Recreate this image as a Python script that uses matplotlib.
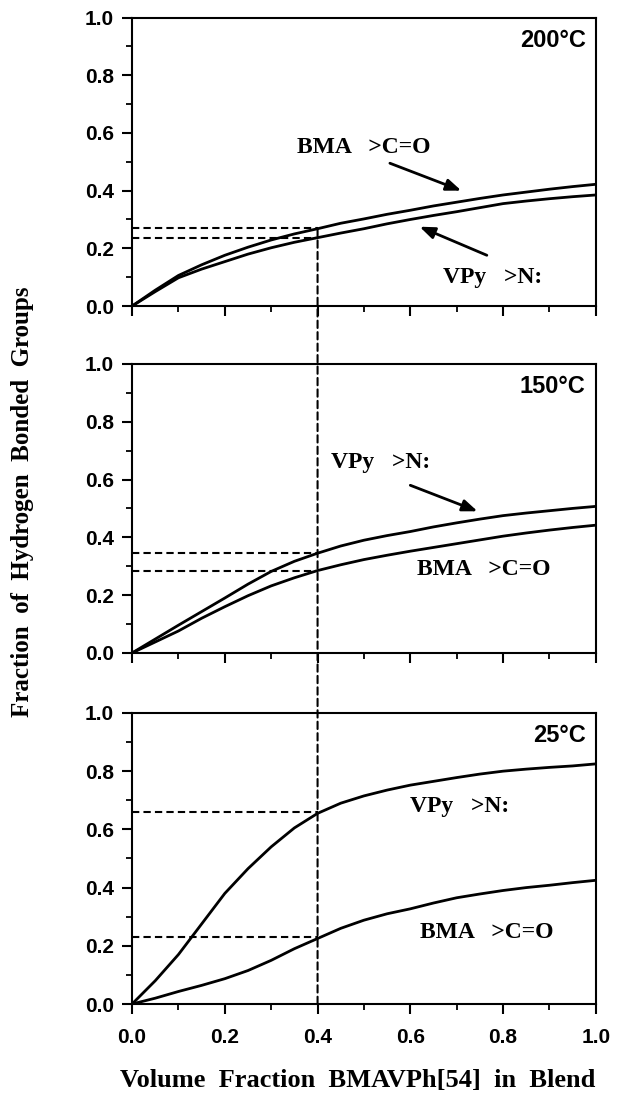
import matplotlib
matplotlib.use("Agg")
import matplotlib.pyplot as plt
from matplotlib.patches import ConnectionPatch
from matplotlib.ticker import MultipleLocator

# --- data ---
x_frac = [0.0, 0.05, 0.1, 0.15, 0.2, 0.25, 0.3, 0.35, 0.4, 0.45, 0.5,
          0.55, 0.6, 0.65, 0.7, 0.75, 0.8, 0.85, 0.9, 0.95, 1.0]

bma_200 = [0.0, 0.055, 0.106, 0.143, 0.176, 0.204, 0.229, 0.25, 0.268, 0.287, 0.302,
           0.318, 0.332, 0.347, 0.36, 0.373, 0.385, 0.395, 0.405, 0.414, 0.422]
vpy_200 = [0.0, 0.05, 0.098, 0.128, 0.154, 0.18, 0.202, 0.221, 0.237, 0.253, 0.268,
           0.285, 0.30, 0.314, 0.327, 0.341, 0.355, 0.364, 0.372, 0.379, 0.385]

vpy_150 = [0.0, 0.048, 0.096, 0.143, 0.19, 0.238, 0.282, 0.317, 0.345, 0.37, 0.39,
           0.406, 0.42, 0.436, 0.45, 0.463, 0.475, 0.484, 0.492, 0.50, 0.507]
bma_150 = [0.0, 0.038, 0.076, 0.12, 0.16, 0.198, 0.232, 0.26, 0.285, 0.305, 0.323,
           0.338, 0.352, 0.365, 0.378, 0.391, 0.404, 0.415, 0.425, 0.434, 0.442]

vpy_25 = [0.0, 0.08, 0.17, 0.275, 0.38, 0.465, 0.54, 0.605, 0.655, 0.69, 0.715,
          0.735, 0.752, 0.765, 0.778, 0.79, 0.80, 0.807, 0.813, 0.818, 0.825]
bma_25 = [0.0, 0.02, 0.043, 0.064, 0.087, 0.115, 0.15, 0.19, 0.225, 0.26, 0.288,
          0.31, 0.327, 0.347, 0.365, 0.378, 0.39, 0.40, 0.408, 0.417, 0.425]

temps = ["200°C", "150°C", "25°C"]
guide_x = 0.4
guides = [[0.27, 0.235], [0.345, 0.285], [0.66, 0.23]]

x_ticks = [0.0, 0.2, 0.4, 0.6, 0.8, 1.0]
x_ticklabels = ["0.0", "0.2", "0.4", "0.6", "0.8", "1.0"]
y_ticks = [0.0, 0.2, 0.4, 0.6, 0.8, 1.0]
y_ticklabels = ["0.0", "0.2", "0.4", "0.6", "0.8", "1.0"]

SANS = "Liberation Sans"
SERIF = "Liberation Serif"

fig = plt.figure(figsize=(6.2, 10.95), dpi=100)
boxes = [[0.213, 0.7205, 0.748, 0.2635],
         [0.213, 0.4037, 0.748, 0.2640],
         [0.213, 0.0831, 0.748, 0.2658]]
axes = [fig.add_axes(b) for b in boxes]

series = [(bma_200, vpy_200), (bma_150, vpy_150), (bma_25, vpy_25)]
dash = (0, (3.5, 2))

for i, ax in enumerate(axes):
    bma, vpy = series[i]
    ax.plot(x_frac, bma, color="black", lw=2.0)
    ax.plot(x_frac, vpy, color="black", lw=2.0)
    for yv in guides[i]:
        ax.plot([0, guide_x], [yv, yv], color="black", lw=1.5, linestyle=dash)
    ax.set_xlim(0, 1)
    ax.set_ylim(0, 1)
    ax.set_xticks(x_ticks)
    ax.set_yticks(y_ticks)
    ax.set_yticklabels(y_ticklabels, fontfamily=SANS, fontweight="bold", fontsize=15)
    if i == 2:
        ax.set_xticklabels(x_ticklabels, fontfamily=SANS, fontweight="bold", fontsize=15)
    else:
        ax.set_xticklabels([])
    ax.xaxis.set_minor_locator(MultipleLocator(0.1))
    ax.yaxis.set_minor_locator(MultipleLocator(0.1))
    ax.tick_params(which="major", direction="out", length=7, width=1.5,
                   top=False, right=False)
    ax.tick_params(axis="y", which="major", pad=6)
    ax.tick_params(axis="x", which="major", pad=10)
    ax.tick_params(which="minor", direction="out", length=4, width=1.3,
                   top=False, right=False)
    for sp in ax.spines.values():
        sp.set_linewidth(1.5)
    ax.text(0.978, 0.922, temps[i], transform=ax.transAxes, ha="right", va="center",
            fontfamily=SANS, fontweight="bold", fontsize=17)

lab = dict(fontfamily=SERIF, fontweight="bold", fontsize=17, ha="left", va="center")
arr = dict(arrowstyle="-|>,head_length=0.9,head_width=0.35", color="black", lw=2.0,
           shrinkA=0, shrinkB=0)

# 200°C
axes[0].text(0.355, 0.55, "BMA   >C=O", **lab)
axes[0].annotate("", xy=(0.71, 0.40), xytext=(0.556, 0.495), arrowprops=arr)
axes[0].text(0.67, 0.10, "VPy   >N:", **lab)
axes[0].annotate("", xy=(0.62, 0.275), xytext=(0.765, 0.176), arrowprops=arr)
# 150°C
axes[1].text(0.43, 0.66, "VPy   >N:", **lab)
axes[1].annotate("", xy=(0.745, 0.49), xytext=(0.60, 0.58), arrowprops=arr)
axes[1].text(0.615, 0.287, "BMA   >C=O", **lab)
# 25°C
axes[2].text(0.60, 0.677, "VPy   >N:", **lab)
axes[2].text(0.62, 0.244, "BMA   >C=O", **lab)

# vertical guide running through all three panels
con = ConnectionPatch(xyA=(guide_x, 0.0), coordsA=axes[2].transData,
                      xyB=(guide_x, bma_200[8]), coordsB=axes[0].transData,
                      color="black", lw=1.5, linestyle=dash)
fig.add_artist(con)

fig.text(0.036, 0.5416, "Fraction  of  Hydrogen  Bonded  Groups", rotation=90,
         ha="center", va="center", fontfamily=SERIF, fontweight="bold", fontsize=18)
fig.text(0.577, 0.013, "Volume  Fraction  BMAVPh[54]  in  Blend", ha="center",
         va="center", fontfamily=SERIF, fontweight="bold", fontsize=19)

fig.savefig("out.png", dpi=100)
